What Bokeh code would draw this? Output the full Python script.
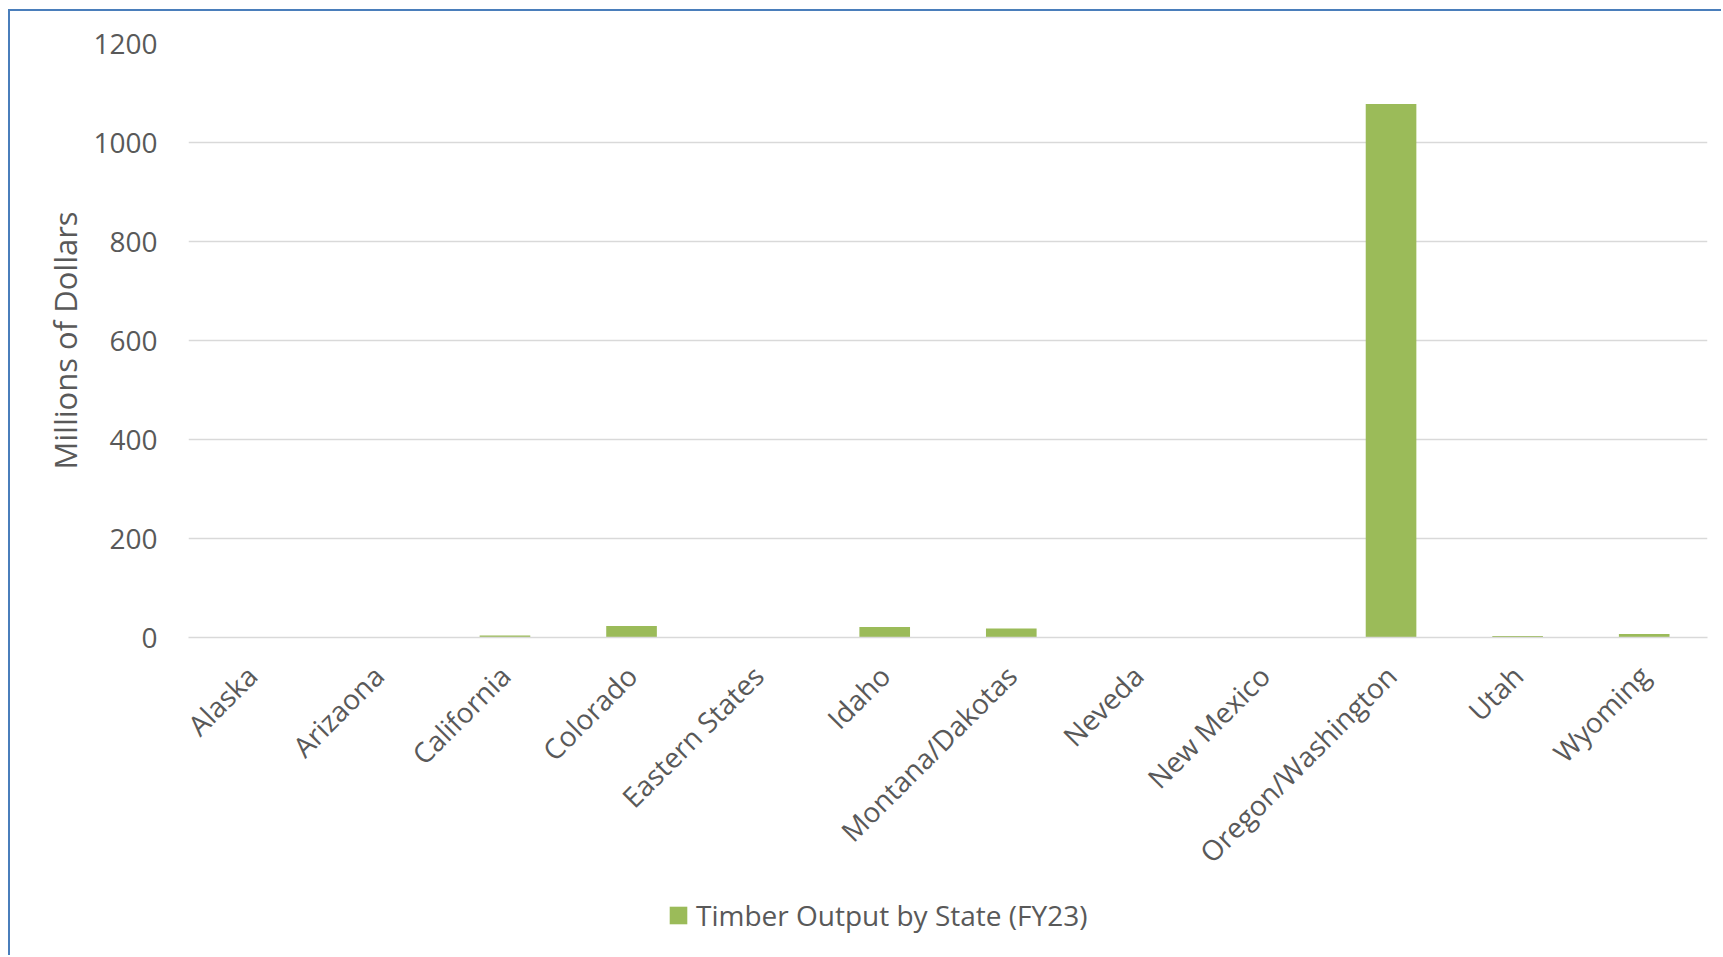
import math
from bokeh.plotting import figure
from bokeh.layouts import column
from bokeh.models import Range1d, FactorRange, FixedTicker, Legend, LegendItem
from bokeh.embed import file_html
from bokeh.resources import INLINE

states = ["Alaska", "Arizaona", "California", "Colorado", "Eastern States", "Idaho",
          "Montana/Dakotas", "Neveda", "New Mexico", "Oregon/Washington", "Utah", "Wyoming"]
output_musd = [0, 0, 4, 23, 0, 21, 18, 0, 0, 1078, 3, 7]
y_ticks = [0, 200, 400, 600, 800, 1000, 1200]
series_name = "Timber Output by State (FY23)"

FONT = "Open Sans"
TXT = "#595959"
GRID = "#d9d9d9"
GREEN = "#9bbb59"
BORDER = "2px solid #4a7ebb"

p = figure(width=1713, height=879, output_backend="svg", toolbar_location=None,
           x_range=FactorRange(*states), y_range=Range1d(0, 1200),
           min_border_left=178, min_border_right=16, min_border_top=32, min_border_bottom=253)
p.margin = (9, 0, 0, 8)
p.styles = {"border-left": BORDER, "border-top": BORDER}
p.outline_line_color = None
p.background_fill_color = "white"
p.border_fill_color = "white"

r = p.vbar(x=states, top=output_musd, width=0.4, fill_color=GREEN, line_color=None)

p.yaxis.ticker = FixedTicker(ticks=y_ticks)
p.yaxis.axis_line_color = None
p.yaxis.major_tick_line_color = None
p.yaxis.minor_tick_line_color = None
p.yaxis.major_label_standoff = 25
p.yaxis.major_label_text_font = FONT
p.yaxis.major_label_text_font_size = "28px"
p.yaxis.major_label_text_color = TXT
p.yaxis.axis_label = "Millions of Dollars"
p.yaxis.axis_label_text_font = FONT
p.yaxis.axis_label_text_font_size = "31px"
p.yaxis.axis_label_text_font_style = "normal"
p.yaxis.axis_label_text_color = TXT
p.yaxis.axis_label_standoff = 4

p.xaxis.axis_line_color = GRID
p.xaxis.axis_line_width = 1.5
p.xaxis.major_tick_line_color = None
p.xaxis.minor_tick_line_color = None
p.xaxis.major_label_orientation = math.pi / 4
p.xaxis.major_label_standoff = 27
p.xaxis.major_label_text_font = FONT
p.xaxis.major_label_text_font_size = "28px"
p.xaxis.major_label_text_color = TXT

p.xgrid.grid_line_color = None
p.ygrid.grid_line_color = GRID
p.ygrid.grid_line_width = 1.5

# legend strip: carries the series' legend entry only (its bars fall outside this strip's ranges)
p2 = figure(width=1713, height=67, output_backend="svg", toolbar_location=None,
            x_range=Range1d(0, 1), y_range=Range1d(-2, -1),
            x_axis_location=None, y_axis_location=None,
            min_border=0, min_border_left=0, min_border_right=0,
            min_border_top=0, min_border_bottom=0)
p2.margin = (0, 0, 0, 8)
p2.styles = {"border-left": BORDER}
p2.outline_line_color = None
p2.grid.visible = False
r2 = p2.vbar(x=states, top=output_musd, width=0.4, fill_color=GREEN, line_color=None)

legend = Legend(items=[LegendItem(label=series_name, renderers=[r2])],
                location=(479, 21), orientation="horizontal",
                glyph_width=22, glyph_height=22, label_standoff=7,
                padding=0, margin=0, spacing=0,
                border_line_color=None, background_fill_alpha=0,
                label_text_font=FONT, label_text_font_size="28px", label_text_color=TXT)
p2.add_layout(legend, "center")

layout = column(p, p2, spacing=0)
open("out.html", "w").write(file_html(layout, INLINE))
